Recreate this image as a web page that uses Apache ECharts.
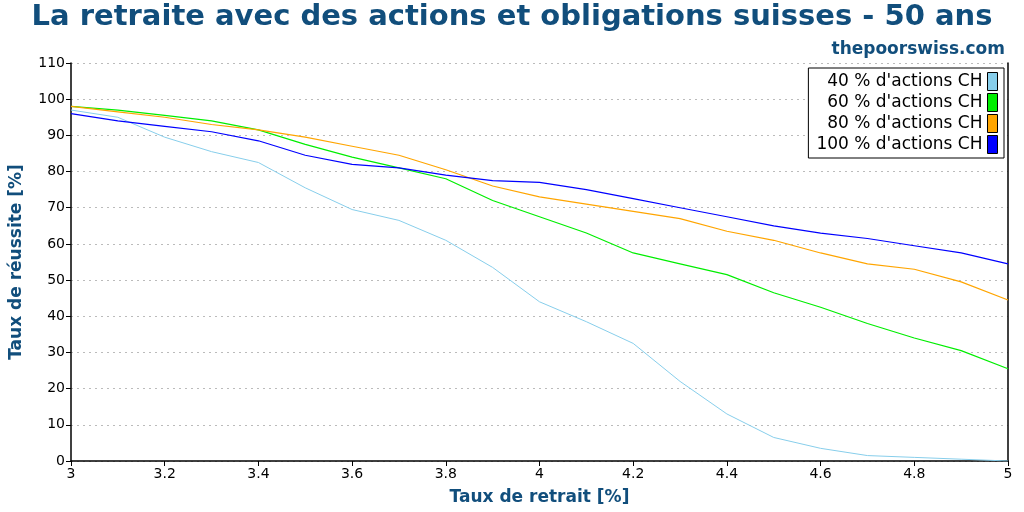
<!DOCTYPE html>
<html>
<head>
<meta charset="utf-8">
<script src="https://cdn.jsdelivr.net/npm/echarts@6/dist/echarts.min.js"></script>
<style>html,body{margin:0;padding:0;background:#fff}#chart{width:1024px;height:512px}</style>
</head>
<body>
<div id="chart"></div>
<script>
var rates = [3.0, 3.1, 3.2, 3.3, 3.4, 3.5, 3.6, 3.7, 3.8, 3.9, 4.0, 4.1, 4.2, 4.3, 4.4, 4.5, 4.6, 4.7, 4.8, 4.9, 5.0];
var actions40 = [97, 95, 89.5, 85.5, 82.5, 75.5, 69.5, 66.5, 61, 53.5, 44, 38.5, 32.5, 22, 13, 6.5, 3.5, 1.5, 1, 0.5, 0];
var actions60 = [98, 97, 95.5, 94, 91.5, 87.5, 84, 81, 78, 72, 67.5, 63, 57.5, 54.5, 51.5, 46.5, 42.5, 38, 34, 30.5, 25.5];
var actions80 = [98, 96.5, 95, 93, 91.5, 89.5, 87, 84.5, 80.5, 76, 73, 71, 69, 67, 63.5, 61, 57.5, 54.5, 53, 49.5, 44.5];
var actions100 = [96, 94, 92.5, 91, 88.5, 84.5, 82, 81, 79, 77.5, 77, 75, 72.5, 70, 67.5, 65, 63, 61.5, 59.5, 57.5, 54.5];
var names = ["40 % d'actions CH", "60 % d'actions CH", "80 % d'actions CH", "100 % d'actions CH"];
var colors = ['#87ceeb', '#00ee00', '#ffa500', '#0000ff'];

function pairs(vals) {
    return vals.map(function (v, i) { return [rates[i], v]; });
}

var myChart = echarts.init(document.getElementById('chart'));
var font = 'DejaVu Sans';
var blue = '#114e7c';
myChart.setOption({
    animation: false,
    color: colors,
    title: [
        {text: 'La retraite avec des actions et obligations suisses - 50 ans', left: 'center', top: -2,
         textStyle: {fontFamily: font, fontSize: 29, fontWeight: 'bold', color: blue}},
        {text: 'thepoorswiss.com', right: 14, top: 36,
         textStyle: {fontFamily: font, fontSize: 17, fontWeight: 'bold', color: blue}}
    ],
    legend: {
        data: names, orient: 'vertical', right: 20, top: 68, align: 'right',
        itemWidth: 10, itemHeight: 18, itemGap: 2, padding: [4, 6, 4, 8],
        borderColor: '#000', borderWidth: 1, borderRadius: 0, backgroundColor: '#fff',
        icon: 'rect', itemStyle: {borderColor: '#000', borderWidth: 1},
        textStyle: {fontFamily: font, fontSize: 17, color: '#000'}
    },
    grid: {left: 69, right: 16, top: 63, bottom: 51},
    xAxis: {
        type: 'value', min: 3, max: 5, interval: 0.2,
        name: 'Taux de retrait [%]', nameLocation: 'middle', nameGap: 28,
        nameTextStyle: {fontFamily: font, fontSize: 17, fontWeight: 'bold', color: blue},
        axisLine: {lineStyle: {color: '#000', width: 1.5}},
        axisTick: {inside: false, length: 5, lineStyle: {color: '#000'}},
        axisLabel: {fontFamily: font, fontSize: 14, color: '#000', margin: 6,
                    formatter: function (v) { return String(Math.round(v * 10) / 10); }},
        splitLine: {show: false}
    },
    yAxis: [{
        type: 'value', min: 0, max: 110, interval: 10,
        name: 'Taux de réussite [%]', nameLocation: 'middle', nameGap: 46,
        nameTextStyle: {fontFamily: font, fontSize: 17, fontWeight: 'bold', color: blue},
        axisLine: {show: true, lineStyle: {color: '#000', width: 1.5}},
        axisTick: {show: true, length: 5, lineStyle: {color: '#000'}},
        axisLabel: {fontFamily: font, fontSize: 14, color: '#000', margin: 6},
        splitLine: {show: true, lineStyle: {color: '#bbb', type: [2, 4]}}
    }, {
        type: 'value', min: 0, max: 110, position: 'right',
        axisLine: {show: true, lineStyle: {color: '#000', width: 1.5}},
        axisTick: {show: false}, axisLabel: {show: false}, splitLine: {show: false}
    }],
    series: [actions40, actions60, actions80, actions100].map(function (vals, i) {
        return {
            name: names[i], type: 'line', data: pairs(vals), showSymbol: false, symbol: 'none',
            lineStyle: {width: i === 0 ? 1 : 1.2, color: colors[i]}
        };
    })
});
</script>
</body>
</html>
